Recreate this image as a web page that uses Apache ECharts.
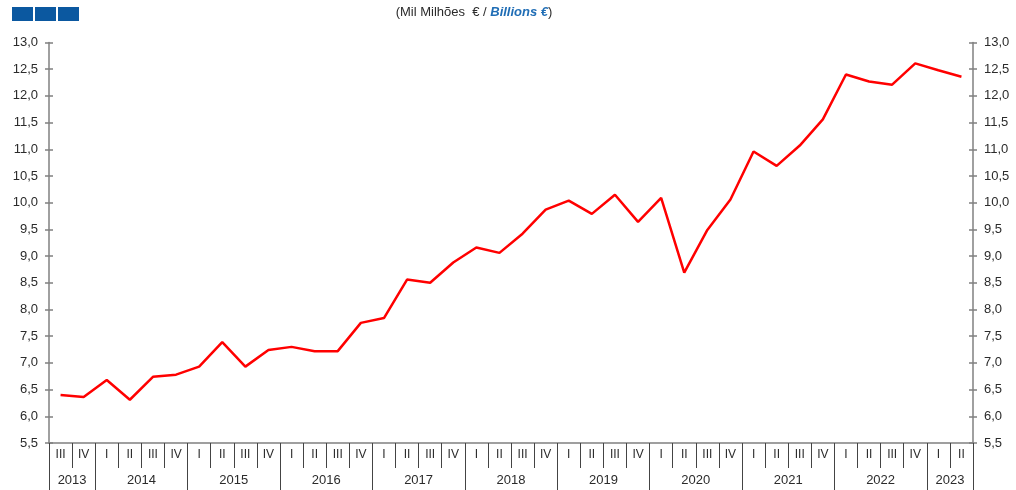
<!DOCTYPE html>
<html>
<head>
<meta charset="utf-8">
<script src="https://cdn.jsdelivr.net/npm/echarts@6/dist/echarts.min.js"></script>
<style>
html,body{margin:0;padding:0;background:#fff;}
#chart{width:1016px;height:490px;}
</style>
</head>
<body>
<div id="chart"></div>
<script>
// Quarter labels (2013 III .. 2023 II)
const quarters = ["III","IV",
  "I","II","III","IV", "I","II","III","IV", "I","II","III","IV",
  "I","II","III","IV", "I","II","III","IV", "I","II","III","IV",
  "I","II","III","IV", "I","II","III","IV", "I","II","III","IV",
  "I","II"];
// Years and number of quarters shown for each
const years = ["2013","2014","2015","2016","2017","2018","2019","2020","2021","2022","2023"];
const yearQuarters = [2,4,4,4,4,4,4,4,4,4,2];
// Values (Mil Milhões € / Billions €)
const values = [6.40, 6.36,
  6.68, 6.31, 6.74, 6.78,
  6.93, 7.39, 6.93, 7.24,
  7.30, 7.22, 7.22, 7.75,
  7.84, 8.56, 8.50, 8.88,
  9.16, 9.06, 9.42, 9.87,
  10.04, 9.79, 10.15, 9.64,
  10.09, 8.69, 9.49, 10.06,
  10.96, 10.69, 11.07, 11.56,
  12.40, 12.27, 12.21, 12.61,
  12.48, 12.36];
const yTicks = {min: 5.5, max: 13, interval: 0.5};

// Build half-quarter grid for the year axis (boundaryGap false, 2 slots per quarter)
const nHalf = quarters.length * 2;
const yearCats = [];
for (let i = 0; i <= nHalf; i++) yearCats.push('');
const yearBounds = new Set([0]);
let acc = 0;
years.forEach((y, k) => {
  const start = acc * 2;
  acc += yearQuarters[k];
  const end = acc * 2;
  yearBounds.add(end);
  yearCats[(start + end) / 2] = y;
});
const yearLabelIdx = new Set();
yearCats.forEach((v, i) => { if (v) yearLabelIdx.add(i); });

const axisGray = '#808080';
const txt = '#2b2b2b';
const FF = 'Liberation Sans, Arial, sans-serif';
const fmt = v => v.toFixed(1).replace('.', ',');

function yAx(pos, withLabels, inside) {
  return {
    type: 'value', position: pos, min: yTicks.min, max: yTicks.max, interval: yTicks.interval,
    axisLine: {show: withLabels, lineStyle: {color: axisGray, width: 1.5}},
    axisTick: {show: true, inside: inside, length: 4, lineStyle: {color: axisGray, width: 1.5}},
    axisLabel: {show: withLabels, formatter: fmt, color: txt, fontSize: 13, margin: 11, fontFamily: FF},
    splitLine: {show: false}
  };
}

const chart = echarts.init(document.getElementById('chart'), null, {renderer: 'canvas'});
chart.setOption({
  animation: false,
  backgroundColor: '#fff',
  grid: {left: 49, right: 43, top: 42.5, bottom: 47},
  graphic: [
    {type: 'rect', left: 12, top: 7, shape: {width: 21, height: 14}, style: {fill: '#0b58a0'}},
    {type: 'rect', left: 35, top: 7, shape: {width: 21, height: 14}, style: {fill: '#0b58a0'}},
    {type: 'rect', left: 58, top: 7, shape: {width: 21, height: 14}, style: {fill: '#0b58a0'}},
    {type: 'text', x: 474, y: 12,
      style: {
        text: '{a|(Mil Milhões  € / }{b|Billions €}{a|)}',
        align: 'center', verticalAlign: 'middle',
        rich: {
          a: {fill: txt, fontSize: 13, fontFamily: FF},
          b: {fill: '#1f6db5', fontSize: 13, fontStyle: 'italic', fontWeight: 'bold', fontFamily: FF}
        }
      }}
  ],
  xAxis: [
    {
      type: 'category', data: quarters, boundaryGap: true, position: 'bottom',
      axisLine: {show: true, lineStyle: {color: axisGray, width: 1.5}},
      axisTick: {show: true, interval: 0, length: 25, lineStyle: {color: '#444', width: 1}},
      axisLabel: {interval: 0, color: txt, fontSize: 12, margin: 6, fontFamily: FF}
    },
    {
      type: 'category', data: yearCats, boundaryGap: false, position: 'bottom',
      axisLine: {show: false},
      axisTick: {show: true, length: 47, interval: (i) => yearBounds.has(i), lineStyle: {color: '#444', width: 1}},
      axisLabel: {interval: (i) => yearLabelIdx.has(i), color: txt, fontSize: 13, margin: 31, fontFamily: FF}
    }
  ],
  yAxis: [
    yAx('left', true, false),
    yAx('left', false, true),
    yAx('right', true, false),
    yAx('right', false, true)
  ],
  series: [{
    type: 'line', xAxisIndex: 0, yAxisIndex: 0, data: values,
    symbol: 'none', lineStyle: {color: '#ff0000', width: 2.5}
  }]
});
</script>
</body>
</html>
